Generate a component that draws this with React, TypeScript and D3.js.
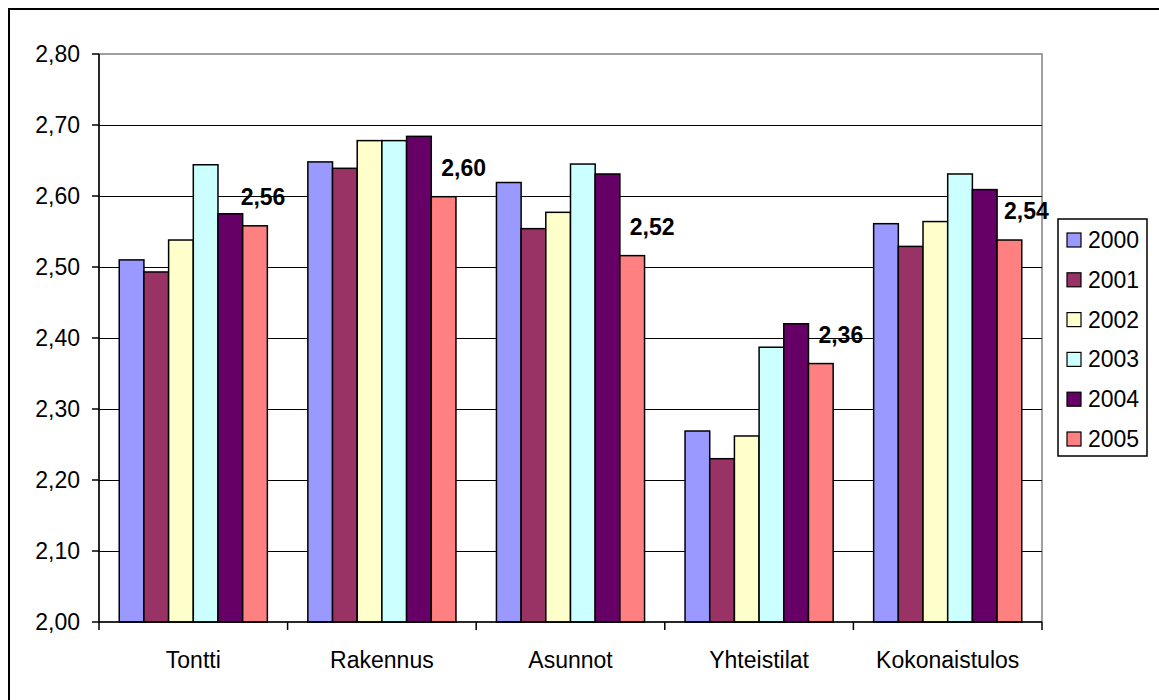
import React, { useRef, useEffect } from 'react'
import * as d3 from 'd3'

const categories = ['Tontti', 'Rakennus', 'Asunnot', 'Yhteistilat', 'Kokonaistulos']
const years = ['2000', '2001', '2002', '2003', '2004', '2005']
const colors = ['#9999FF', '#993366', '#FFFFCC', '#CCFFFF', '#660066', '#FF8080']

// values per category, one per year
const values2000 = [2.51, 2.648, 2.619, 2.269, 2.561]
const values2001 = [2.493, 2.639, 2.554, 2.23, 2.529]
const values2002 = [2.538, 2.678, 2.577, 2.262, 2.564]
const values2003 = [2.644, 2.678, 2.645, 2.387, 2.631]
const values2004 = [2.575, 2.684, 2.631, 2.42, 2.609]
const values2005 = [2.558, 2.599, 2.516, 2.364, 2.538]
const series = [values2000, values2001, values2002, values2003, values2004, values2005]

const yTicks = [2.0, 2.1, 2.2, 2.3, 2.4, 2.5, 2.6, 2.7, 2.8]

// horizontal nudge of the 2005 value labels (px)
const labelNudge = [8, 20, 20, 20, 17]

const W = 1159
const H = 700
const FONT = 'Liberation Sans, Arial, sans-serif'

const App: React.FC = () => {
  const svgRef = useRef<SVGSVGElement>(null)

  useEffect(() => {
    if (!svgRef.current) return
    const svg = d3.select(svgRef.current)
    svg.selectAll('*').remove()

    const plot = { left: 99, right: 1042, top: 54, bottom: 622 }

    // outer frame (left + top visible)
    svg.append('rect')
      .attr('x', 9).attr('y', 9)
      .attr('width', W + 20).attr('height', H + 20)
      .attr('fill', '#fff')
      .attr('stroke', '#000')
      .attr('stroke-width', 2)

    const y = d3.scaleLinear().domain([2.0, 2.8]).range([plot.bottom, plot.top])
    const x0 = d3.scaleBand<string>().domain(categories).range([plot.left, plot.right]).padding(0)
    const x1 = d3.scaleBand<string>().domain(years).range([0, x0.bandwidth()])
      .paddingInner(0).paddingOuter(0.82)

    const fmt = (v: number) => v.toFixed(2).replace('.', ',')

    // plot area border (gray)
    svg.append('rect')
      .attr('x', plot.left).attr('y', plot.top)
      .attr('width', plot.right - plot.left).attr('height', plot.bottom - plot.top)
      .attr('fill', 'none')
      .attr('stroke', '#808080')
      .attr('stroke-width', 1.5)

    // gridlines
    svg.append('g')
      .selectAll('line')
      .data(yTicks.filter(t => t > 2.0 && t < 2.8))
      .enter().append('line')
      .attr('x1', plot.left).attr('x2', plot.right)
      .attr('y1', d => Math.round(y(d)) + 0.5).attr('y2', d => Math.round(y(d)) + 0.5)
      .attr('stroke', '#000')
      .attr('stroke-width', 1.2)

    // bars
    const groups = svg.append('g')
      .selectAll('g')
      .data(categories)
      .enter().append('g')
      .attr('transform', d => `translate(${x0(d)},0)`)

    groups.selectAll('rect')
      .data((c, ci) => years.map((yr, yi) => ({ yr, yi, v: series[yi][ci] })))
      .enter().append('rect')
      .attr('x', d => x1(d.yr)!)
      .attr('y', d => y(d.v))
      .attr('width', x1.bandwidth())
      .attr('height', d => y(2.0) - y(d.v))
      .attr('fill', d => colors[d.yi])
      .attr('stroke', '#000')
      .attr('stroke-width', 1.5)

    // data labels for 2005
    groups.append('text')
      .text((c, ci) => fmt(values2005[ci]))
      .attr('x', (c, ci) => x1('2005')! + x1.bandwidth() / 2 + labelNudge[ci])
      .attr('y', (c, ci) => y(values2005[ci]) - 21)
      .attr('text-anchor', 'middle')
      .attr('font-family', FONT)
      .attr('font-size', 23)
      .attr('font-weight', 'bold')
      .attr('fill', '#000')

    // y axis
    svg.append('line')
      .attr('x1', plot.left).attr('x2', plot.left)
      .attr('y1', plot.top).attr('y2', plot.bottom)
      .attr('stroke', '#000').attr('stroke-width', 1.5)

    const yAxis = svg.append('g')
    yAxis.selectAll('line')
      .data(yTicks)
      .enter().append('line')
      .attr('x1', plot.left - 7).attr('x2', plot.left)
      .attr('y1', d => y(d)).attr('y2', d => y(d))
      .attr('stroke', '#000').attr('stroke-width', 1.5)
    yAxis.selectAll('text')
      .data(yTicks)
      .enter().append('text')
      .text(d => fmt(d))
      .attr('x', plot.left - 19)
      .attr('y', d => y(d))
      .attr('dy', '0.35em')
      .attr('text-anchor', 'end')
      .attr('font-family', FONT)
      .attr('font-size', 23)
      .attr('fill', '#000')

    // x axis
    svg.append('line')
      .attr('x1', plot.left).attr('x2', plot.right)
      .attr('y1', plot.bottom).attr('y2', plot.bottom)
      .attr('stroke', '#000').attr('stroke-width', 1.5)

    const xAxis = svg.append('g')
    xAxis.selectAll('line')
      .data([...categories.map(c => x0(c)!), plot.right])
      .enter().append('line')
      .attr('x1', d => d).attr('x2', d => d)
      .attr('y1', plot.bottom).attr('y2', plot.bottom + 8)
      .attr('stroke', '#000').attr('stroke-width', 1.5)
    xAxis.selectAll('text')
      .data(categories)
      .enter().append('text')
      .text(d => d)
      .attr('x', d => x0(d)! + x0.bandwidth() / 2)
      .attr('y', 668)
      .attr('text-anchor', 'middle')
      .attr('font-family', FONT)
      .attr('font-size', 23)
      .attr('fill', '#000')

    // legend
    const legend = svg.append('g')
    legend.append('rect')
      .attr('x', 1058).attr('y', 219)
      .attr('width', 89).attr('height', 237)
      .attr('fill', '#fff')
      .attr('stroke', '#000')
      .attr('stroke-width', 1.5)

    const ly = d3.scalePoint<string>().domain(years).range([240, 439])
    const item = legend.selectAll('g')
      .data(years)
      .enter().append('g')
      .attr('transform', d => `translate(0,${ly(d)})`)
    item.append('rect')
      .attr('x', 1067).attr('y', -7)
      .attr('width', 14).attr('height', 14)
      .attr('fill', (d, i) => colors[i])
      .attr('stroke', '#000')
      .attr('stroke-width', 1.2)
    item.append('text')
      .text(d => d)
      .attr('x', 1088)
      .attr('y', 0)
      .attr('dy', '0.35em')
      .attr('font-family', FONT)
      .attr('font-size', 23)
      .attr('fill', '#000')
  }, [])

  return (
    <svg
      ref={svgRef}
      width={W}
      height={H}
      style={{ position: 'absolute', left: 0, top: 0, background: '#fff' }}
    />
  )
}

export default App
